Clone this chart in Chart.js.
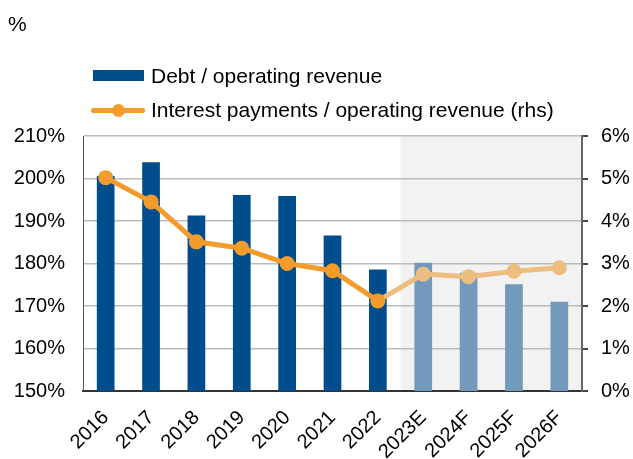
<!DOCTYPE html>
<html>
<head>
<meta charset="utf-8">
<script src="https://cdn.jsdelivr.net/npm/chart.js@4"></script>
<style>
  html, body { margin: 0; padding: 0; background: #fff; }
  body { width: 633px; height: 459px; position: relative; overflow: hidden; font-family: "Liberation Sans", Arial, sans-serif; color: #000; }
  #wrap { position: absolute; left: 0; top: 0; width: 633px; height: 459px; }
  .unit { position: absolute; left: 8px; top: 12px; font-size: 21px; line-height: 24px; }
  .leg { position: absolute; left: 0; width: 633px; height: 24px; font-size: 21px; line-height: 24px; white-space: nowrap; }
  .leg .sw { position: absolute; }
  .leg span.t { position: absolute; left: 151px; top: 0; }
</style>
</head>
<body>
<div id="wrap"><canvas id="chart" width="633" height="459"></canvas></div>
<div class="unit">%</div>
<div class="leg" style="top:64px">
  <div class="sw" style="left:93px;top:6px;width:51px;height:11px;background:#004d8d"></div>
  <span class="t">Debt / operating revenue</span>
</div>
<div class="leg" style="top:98px">
  <div class="sw" style="left:91px;top:10px;width:54px;height:5px;background:#f39c2c;border-radius:2px"></div>
  <div class="sw" style="left:112px;top:6px;width:13px;height:13px;background:#f39c2c;border-radius:50%"></div>
  <span class="t">Interest payments / operating revenue (rhs)</span>
</div>
<script>
const years = ['2016', '2017', '2018', '2019', '2020', '2021', '2022', '2023E', '2024F', '2025F', '2026F'];
const debtRatio = [200.6, 203.8, 191.3, 196.1, 195.9, 186.6, 178.6, 180.2, 177.8, 175.1, 171.0];
const interestRatio = [5.02, 4.45, 3.51, 3.36, 3.00, 2.83, 2.12, 2.75, 2.69, 2.82, 2.90];
const leftTicks = [150, 160, 170, 180, 190, 200, 210];
const rightTicks = [0, 1, 2, 3, 4, 5, 6];
const firstForecast = 7;

const FONT = '"Liberation Sans", Arial, sans-serif';
const barCols = years.map((y, i) => i < firstForecast ? '#004d8d' : '#7399bc');
const ptCols = years.map((y, i) => i < firstForecast ? '#f39c2c' : '#eebd80');

// grey band behind the forecast years
const forecastShade = {
  id: 'forecastShade',
  beforeDraw(chart) {
    const xs = chart.scales.x, a = chart.chartArea, c = chart.ctx;
    const half = (xs.getPixelForValue(1) - xs.getPixelForValue(0)) / 2;
    const x0 = xs.getPixelForValue(firstForecast) - half;
    c.save();
    c.fillStyle = '#f2f2f2';
    c.fillRect(x0, a.top, a.right - x0, a.bottom - a.top);
    c.restore();
  }
};

new Chart(document.getElementById('chart'), {
  type: 'bar',
  data: {
    labels: years,
    datasets: [
      {
        type: 'line',
        data: interestRatio,
        yAxisID: 'y2',
        order: 0,
        borderColor: '#f39c2c',
        borderWidth: 5,
        pointRadius: 7.5,
        pointHoverRadius: 7.5,
        pointBorderWidth: 0,
        pointBackgroundColor: ptCols,
        segment: {
          borderColor: ctx => ctx.p0DataIndex >= firstForecast - 1 ? '#eebd80' : '#f39c2c'
        },
        clip: false
      },
      {
        data: debtRatio,
        yAxisID: 'y',
        order: 1,
        backgroundColor: barCols,
        categoryPercentage: 1,
        barPercentage: 0.39
      }
    ]
  },
  options: {
    responsive: false,
    animation: false,
    layout: { padding: { top: 136, left: 0, right: 0, bottom: 0 } },
    plugins: { legend: { display: false }, tooltip: { enabled: false } },
    scales: {
      x: {
        grid: { display: false, drawTicks: false },
        border: { display: true, color: '#333', width: 2 },
        ticks: { color: '#000', font: { family: FONT, size: 20 }, minRotation: 45, maxRotation: 45, padding: 15 },
        afterFit: s => { s.height = 68; }
      },
      y: {
        position: 'left',
        min: leftTicks[0],
        max: leftTicks[leftTicks.length - 1],
        afterBuildTicks: s => { s.ticks = leftTicks.map(v => ({ value: v })); },
        grid: { color: '#bbbbbb', lineWidth: 1.5, drawTicks: false },
        border: { display: true, color: '#555', width: 1 },
        ticks: { color: '#000', font: { family: FONT, size: 20 }, padding: 18, callback: v => v + '%' },
        afterFit: s => { s.width = 83; }
      },
      y2: {
        position: 'right',
        min: rightTicks[0],
        max: rightTicks[rightTicks.length - 1],
        afterBuildTicks: s => { s.ticks = rightTicks.map(v => ({ value: v })); },
        grid: { drawOnChartArea: false, drawTicks: true, tickLength: 6, color: '#444', lineWidth: 2 },
        border: { display: true, color: '#666', width: 2 },
        ticks: { color: '#000', font: { family: FONT, size: 20 }, padding: 13, callback: v => v + '%' },
        afterFit: s => { s.width = 51; }
      }
    }
  },
  plugins: [forecastShade]
});
</script>
</body>
</html>
